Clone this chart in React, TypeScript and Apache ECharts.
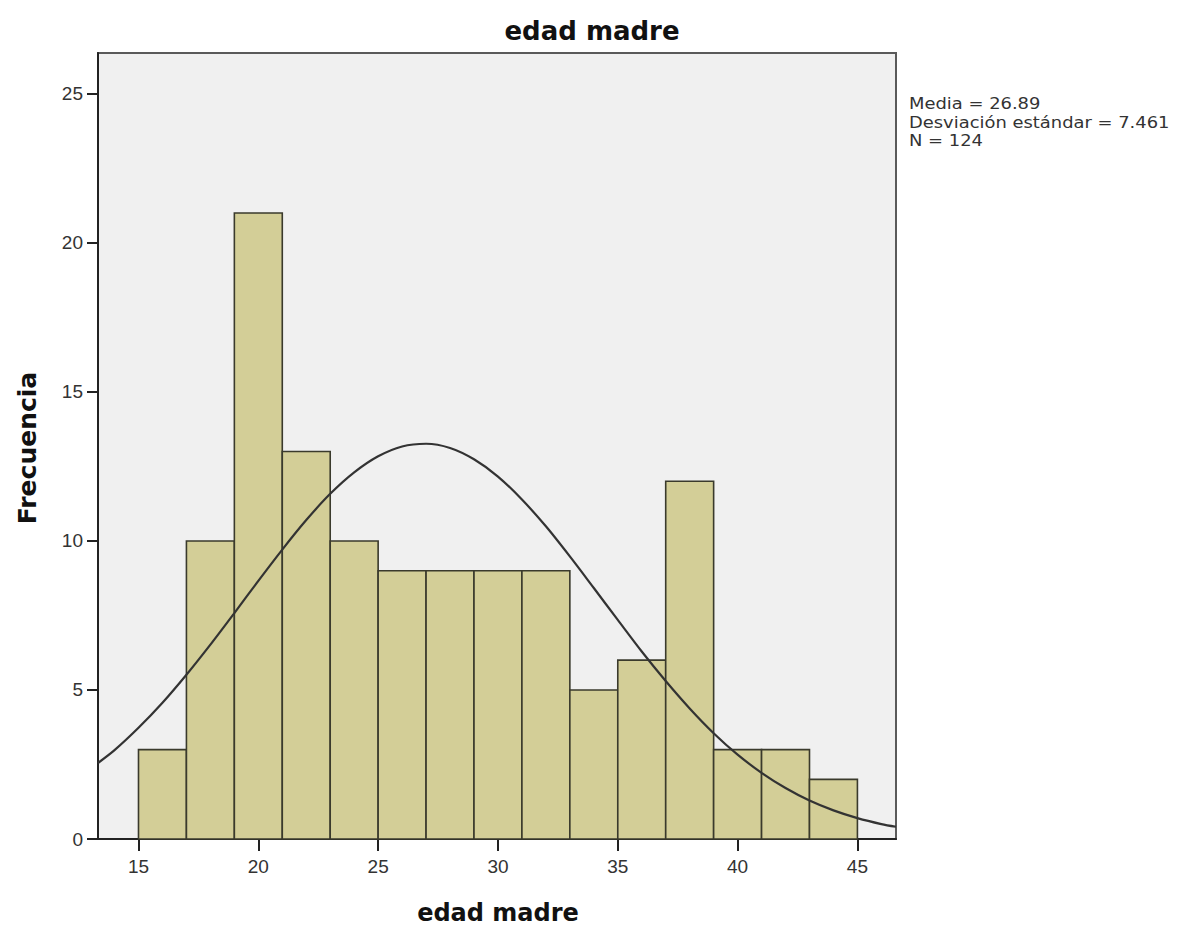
import React, { useEffect, useRef } from "react";
import * as echarts from "echarts";

// Histogram bins (lower bound of each 2-year bin) and frequencies
const binLower = [15, 17, 19, 21, 23, 25, 27, 29, 31, 33, 35, 37, 39, 41, 43];
const binWidth = 2;
const frequencies = [3, 10, 21, 13, 10, 9, 9, 9, 9, 5, 6, 12, 3, 3, 2];

// Fitted normal curve
const curveX = [13.31, 14, 15, 16, 17, 18, 19, 20, 21, 22, 23, 24, 25, 26, 27, 28, 29, 30, 31, 32, 33, 34, 35, 36, 37, 38, 39, 40, 41, 42, 43, 44, 45, 46, 46.61];
const curveY = [2.55, 2.98, 3.73, 4.57, 5.51, 6.52, 7.58, 8.66, 9.71, 10.7, 11.58, 12.3, 12.84, 13.17, 13.26, 13.12, 12.74, 12.16, 11.39, 10.49, 9.48, 8.42, 7.35, 6.29, 5.3, 4.38, 3.55, 2.83, 2.22, 1.71, 1.29, 0.96, 0.7, 0.5, 0.41];

const xTicks = [15, 20, 25, 30, 35, 40, 45];
const yTicks = [0, 5, 10, 15, 20, 25];
const statLines = ["Media = 26.89", "Desviación estándar = 7.461", "N = 124"];

const chartTitle = "edad madre";
const xTitle = "edad madre";
const yTitle = "Frecuencia";

export default function App() {
  const ref = useRef<HTMLDivElement>(null);
  useEffect(() => {
    if (!ref.current) return;
    const chart = echarts.init(ref.current, null, { renderer: "svg" });
    const barData = binLower.map((lo, i) => [lo, lo + binWidth, frequencies[i]]);
    const curveData = curveX.map((x, i) => [x, curveY[i]]);
    const tickFont = { fontFamily: "Liberation Sans", fontSize: 19, color: "#333" };
    const statTexts = statLines.map((line, i) => ({
      type: "text",
      x: 909,
      y: 103.5 + i * 18.5,
      scaleX: 1.12,
      style: {
        text: line,
        font: "16px 'DejaVu Sans'",
        fill: "#333",
        align: "left",
        verticalAlign: "middle",
      },
    }));
    chart.setOption({
      animation: false,
      backgroundColor: "#ffffff",
      grid: {
        left: 98,
        right: 284,
        top: 53,
        bottom: 89,
        show: true,
        backgroundColor: "#f0f0f0",
        borderColor: "#5a5a5a",
        borderWidth: 2,
      },
      xAxis: {
        type: "value",
        min: 13.31,
        max: 46.61,
        splitLine: { show: false },
        axisLine: { show: true, lineStyle: { color: "#222", width: 2 } },
        axisTick: { show: true, length: 12, customValues: xTicks, lineStyle: { color: "#222", width: 2 } },
        axisLabel: { customValues: xTicks, margin: 18, ...tickFont },
      },
      yAxis: {
        type: "value",
        min: 0,
        max: 26.37,
        splitLine: { show: false },
        axisLine: { show: true, lineStyle: { color: "#222", width: 2 } },
        axisTick: { show: true, length: 11, customValues: yTicks, lineStyle: { color: "#222", width: 2 } },
        axisLabel: { customValues: yTicks, margin: 15, ...tickFont },
      },
      graphic: [
        {
          type: "text",
          x: 592,
          y: 31,
          style: {
            text: chartTitle,
            font: "bold 26px 'DejaVu Sans'",
            fill: "#111",
            align: "center",
            verticalAlign: "middle",
          },
        },
        {
          type: "text",
          x: 498,
          y: 913,
          style: {
            text: xTitle,
            font: "bold 24px 'DejaVu Sans'",
            fill: "#111",
            align: "center",
            verticalAlign: "middle",
          },
        },
        {
          type: "text",
          x: 27,
          y: 448,
          rotation: Math.PI / 2,
          style: {
            text: yTitle,
            font: "bold 25px 'DejaVu Sans'",
            fill: "#111",
            align: "center",
            verticalAlign: "middle",
          },
        },
        ...statTexts,
      ],
      series: [
        {
          type: "custom",
          data: barData,
          encode: { x: [0, 1], y: 2 },
          z: 2,
          renderItem: (params: any, api: any) => {
            const x0 = api.value(0);
            const x1 = api.value(1);
            const c = api.value(2);
            const p0 = api.coord([x0, c]);
            const p1 = api.coord([x1, 0]);
            return {
              type: "rect",
              shape: { x: p0[0], y: p0[1], width: p1[0] - p0[0], height: p1[1] - p0[1] },
              style: { fill: "#d3ce97", stroke: "#3a3a2c", lineWidth: 1.6 },
            };
          },
        },
        {
          type: "line",
          data: curveData,
          showSymbol: false,
          smooth: 0.3,
          z: 3,
          lineStyle: { color: "#333", width: 2.2 },
        },
      ],
    });
    return () => chart.dispose();
  }, []);
  return (
    <div
      ref={ref}
      style={{ position: "absolute", left: 0, top: 0, width: 1180, height: 928 }}
    />
  );
}
